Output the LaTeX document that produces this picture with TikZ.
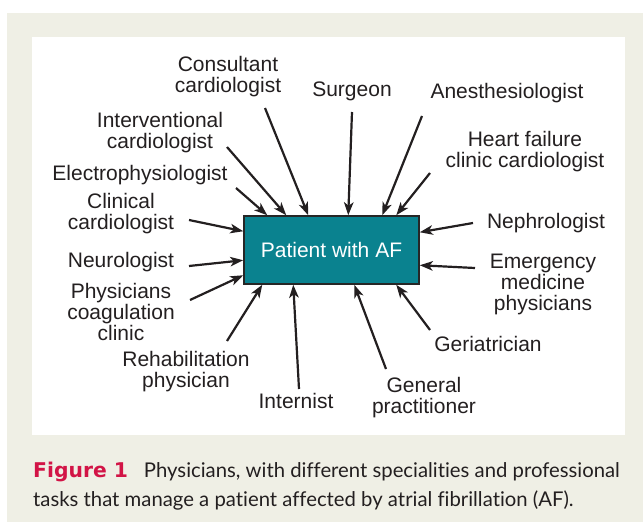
\documentclass[tikz,border=0pt]{standalone}
\usepackage{fontspec}
\setmainfont{Liberation Sans}
\newfontfamily\capfont{Lato}[Ligatures=NoCommon]
\newfontfamily\figfont{DejaVu Sans}
\usetikzlibrary{arrows.meta}
\definecolor{panelbg}{RGB}{239,239,229}
\definecolor{afteal}{RGB}{10,130,143}
\definecolor{inkdark}{RGB}{35,31,32}
\definecolor{figred}{RGB}{210,20,70}
\begin{document}
\begin{tikzpicture}[x=1pt, y=-1pt,
    spec/.style={font=\fontsize{21}{21}\selectfont, text=inkdark, align=center, inner sep=0pt, anchor=base},
    feed/.style={-{Stealth[length=13pt, width=9.5pt, inset=3.5pt]}, line width=2.2pt, draw=inkdark}]
    \useasboundingbox (0,0) rectangle (643,522);
    % background and white panel
    \fill[panelbg] (7,13) rectangle (643,522);
    \fill[white] (32,37) rectangle (625,435);

    % patient in the middle
    \node[draw=black!85, line width=1.5pt, fill=afteal, text=white, minimum width=175pt, minimum height=68pt,
          inner sep=0pt, font=\fontsize{21}{21}\selectfont] (box) at (331.5,250) {Patient with AF};

    % specialists, clockwise from top left (base = last line)
    \node[spec] (cons)    at (228,92)  {Consultant\\cardiologist};
    \node[spec] (surg)    at (352,96)  {Surgeon};
    \node[spec] (anes)    at (507,98)  {Anesthesiologist};
    \node[spec] (hf)      at (525,167) {Heart failure\\clinic cardiologist};
    \node[spec] (neph)    at (546,228) {Nephrologist};
    \node[spec] (emerg)   at (543,310) {Emergency\\medicine\\physicians};
    \node[spec] (geri)    at (488,351) {Geriatrician};
    \node[spec] (gp)      at (424,413) {General\\practitioner};
    \node[spec] (intern)  at (296,408) {Internist};
    \node[spec] (rehab)   at (186,387) {Rehabilitation\\physician};
    \node[spec] (coag)    at (121,340) {Physicians\\coagulation\\clinic};
    \node[spec] (neuro)   at (121,267) {Neurologist};
    \node[spec] (clin)    at (121,229) {Clinical\\cardiologist};
    \node[spec] (electro) at (140,180) {Electrophysiologist};
    \node[spec] (interv)  at (160,148) {Interventional\\cardiologist};

    % arrow tails
    \coordinate (cons-t)    at (265,108);
    \coordinate (surg-t)    at (352,112);
    \coordinate (anes-t)    at (422,116);
    \coordinate (hf-t)      at (430,173);
    \coordinate (neph-t)    at (473,223);
    \coordinate (emerg-t)   at (475,268);
    \coordinate (geri-t)    at (430,330);
    \coordinate (gp-t)      at (386,369);
    \coordinate (intern-t)  at (299,389);
    \coordinate (rehab-t)   at (227,341);
    \coordinate (coag-t)    at (190,300);
    \coordinate (neuro-t)   at (189,266);
    \coordinate (clin-t)    at (189,220);
    \coordinate (electro-t) at (236,188);
    \coordinate (interv-t)  at (227,147);

    % arrows into the box (tail / box corner / shift along the edge)
    \foreach \t/\a/\dx/\dy in {cons-t/north west/65/0, surg-t/north west/105/0,
                       anes-t/north west/139/0, hf-t/north west/153/0,
                       neph-t/north east/0/-17, emerg-t/north east/0/-50,
                       geri-t/south west/153/0, gp-t/south west/111/0,
                       intern-t/south west/50/0, rehab-t/south west/19/0,
                       coag-t/north west/0/-60, neuro-t/north west/0/-45,
                       clin-t/north west/0/-16, electro-t/north west/24/0,
                       interv-t/north west/43/0}
        \draw[feed] (\t) -- ([xshift=\dx, yshift=\dy]box.\a);

    % caption
    \node[font=\capfont\fontsize{20.3}{29}\selectfont, text=inkdark, align=left, anchor=base west, inner sep=0pt] (cap) at (33,506)
        {{\figfont\bfseries\color{figred}Figure 1}\hspace{16pt}Physicians, with different specialities and professional\\tasks that manage a patient affected by atrial fibrillation (AF).};
\end{tikzpicture}
\end{document}
